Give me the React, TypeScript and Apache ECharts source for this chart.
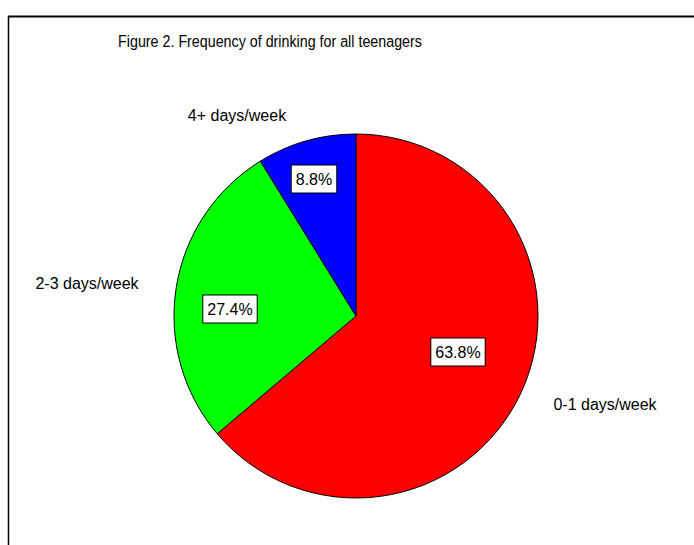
import React, { useEffect, useRef } from "react";
import * as echarts from "echarts";

const categories = ["0-1 days/week", "2-3 days/week", "4+ days/week"];
const percentages = [63.8, 27.4, 8.8];
const sliceColors = ["#ff0000", "#00ff00", "#0000ff"];
const titleText = "Figure 2. Frequency of drinking for all teenagers";

// label layout (pixel positions of label centres)
const pctLabelPos = [
  [458, 352],
  [230, 309],
  [314, 179],
];
const catLabelPos = [
  [605, 404],
  [87, 283],
  [237, 115],
];

export default function App() {
  const ref = useRef<HTMLDivElement>(null);
  useEffect(() => {
    if (!ref.current) return;
    const chart = echarts.init(ref.current, undefined, { renderer: "svg" });
    const font = "'Liberation Sans', Arial, sans-serif";
    const data = categories.map((c, i) => ({
      name: c,
      value: percentages[i],
      itemStyle: { color: sliceColors[i] },
    }));
    chart.setOption({
      animation: false,
      backgroundColor: "#ffffff",
      graphic: [
        {
          type: "line",
          shape: { x1: 8, y1: 16.5, x2: 700, y2: 16.5 },
          style: { stroke: "#000", lineWidth: 2 },
        },
        {
          type: "line",
          shape: { x1: 8.5, y1: 16, x2: 8.5, y2: 560 },
          style: { stroke: "#000", lineWidth: 1.5 },
        },
        {
          type: "text",
          x: 270,
          y: 41,
          scaleX: 0.84,
          style: {
            text: titleText,
            fontFamily: font,
            fontSize: 17,
            fill: "#000",
            align: "center",
            verticalAlign: "middle",
          },
        },
      ],
      series: [
        {
          type: "pie",
          center: [356, 316],
          radius: 182,
          startAngle: 90,
          clockwise: true,
          silent: true,
          data,
          itemStyle: { borderColor: "#000", borderWidth: 1 },
          label: {
            show: true,
            position: "inside",
            formatter: (p: any) => p.value.toFixed(1) + "%",
            fontFamily: font,
            fontSize: 16,
            color: "#000",
            backgroundColor: "#ffffff",
            borderColor: "#000",
            borderWidth: 1,
            padding: [6, 4, 5, 4],
          },
          labelLine: { show: false },
          labelLayout: (p: any) => ({
            x: pctLabelPos[p.dataIndex][0],
            y: pctLabelPos[p.dataIndex][1],
            align: "center",
            verticalAlign: "middle",
          }),
        },
        {
          type: "pie",
          center: [356, 316],
          radius: 182,
          startAngle: 90,
          clockwise: true,
          silent: true,
          data: categories.map((c, i) => ({ name: c, value: percentages[i] })),
          itemStyle: { color: "rgba(0,0,0,0)", borderWidth: 0 },
          label: {
            show: true,
            position: "outside",
            formatter: "{b}",
            fontFamily: font,
            fontSize: 16,
            color: "#000",
          },
          labelLine: { show: false },
          labelLayout: (p: any) => ({
            x: catLabelPos[p.dataIndex][0],
            y: catLabelPos[p.dataIndex][1],
            align: "center",
            verticalAlign: "middle",
          }),
        },
      ],
    });
    return () => chart.dispose();
  }, []);
  return (
    <div
      ref={ref}
      style={{ position: "fixed", left: 0, top: 0, width: 694, height: 545 }}
    />
  );
}
